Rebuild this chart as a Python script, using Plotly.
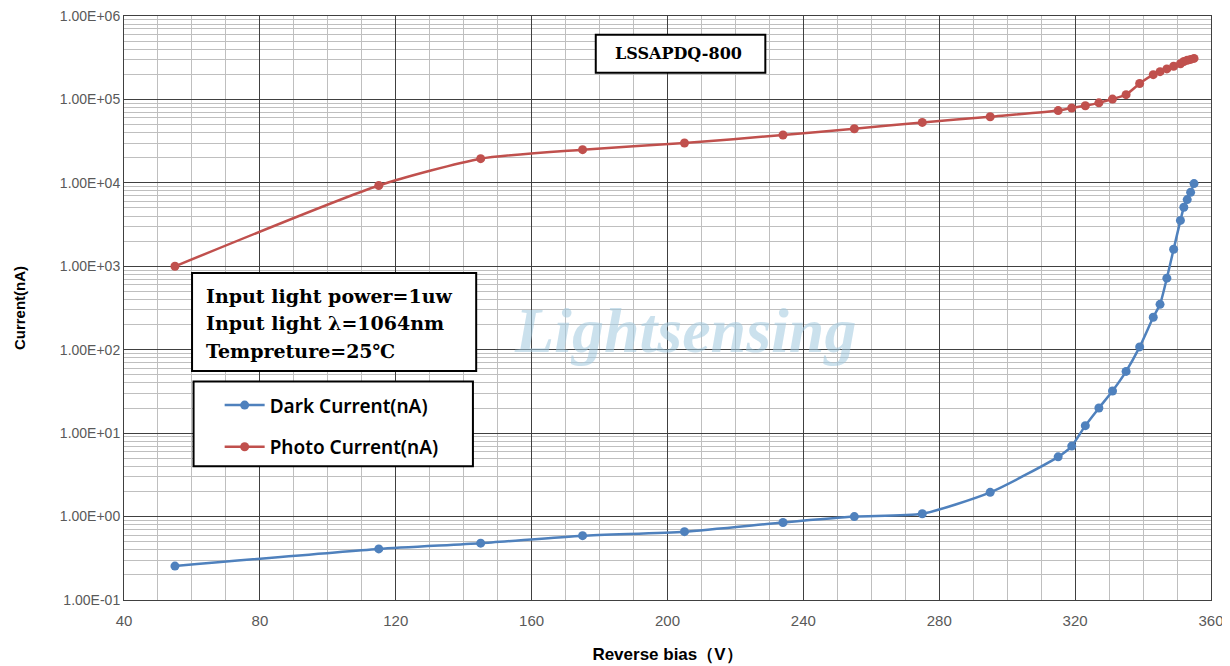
import plotly.graph_objects as go

# ---- data ----
dark_v = [55, 115, 145, 175, 205, 234, 255, 275, 295, 315, 319, 323, 327, 331, 335,
          339, 343, 345, 347, 349, 351, 352, 353, 354, 355]
dark_i = [0.255, 0.41, 0.48, 0.59, 0.66, 0.85, 1.0, 1.08, 1.95, 5.2, 7.0, 12.3, 20, 32, 55,
          108, 245, 350, 720, 1600, 3550, 5100, 6300, 7700, 9800]

photo_v = [55, 115, 145, 175, 205, 234, 255, 275, 295, 315, 319, 323, 327, 331, 335,
           339, 343, 345, 347, 349, 351, 352, 353, 354, 355]
photo_i = [1000, 9300, 19500, 25000, 30000, 37500, 44500, 53000, 62000, 73500, 79000, 84000,
           91000, 101000, 114000, 155000, 198000, 215000, 232000, 250000, 268000, 285000,
           295000, 302000, 310000]

y_tickvals = [1e-1, 1e0, 1e1, 1e2, 1e3, 1e4, 1e5, 1e6]
y_ticktext = ["1.00E-01", "1.00E+00", "1.00E+01", "1.00E+02", "1.00E+03",
              "1.00E+04", "1.00E+05", "1.00E+06"]
x_tickvals = [40, 80, 120, 160, 200, 240, 280, 320, 360]

BLUE = "#4f81bd"
RED = "#c0504d"

fig = go.Figure()
fig.add_trace(go.Scatter(
    x=dark_v, y=dark_i, name="Dark Current(nA)", mode="lines+markers",
    line=dict(color=BLUE, width=2.5, shape="spline", smoothing=0.6),
    marker=dict(color=BLUE, size=9), legendgroup="a"))
fig.add_trace(go.Scatter(
    x=photo_v, y=photo_i, name="Photo Current(nA)", mode="lines+markers",
    line=dict(color=RED, width=2.5, shape="spline", smoothing=0.6),
    marker=dict(color=RED, size=9), legendgroup="b"))

fig.update_layout(
    width=1222, height=658,
    margin=dict(l=116, r=19, t=8, b=66, autoexpand=False),
    paper_bgcolor="white", plot_bgcolor="white",
    font=dict(family="Liberation Sans, Arial, sans-serif", color="#595959"),
    showlegend=True,
    legend=dict(x=0.088, y=0.366, xanchor="left", yanchor="top",
                bgcolor="rgba(0,0,0,0)", borderwidth=0,
                font=dict(size=19, color="#000000", family="Noto Sans, sans-serif", weight=600),
                traceorder="grouped", tracegroupgap=14, itemwidth=40),
)

fig.update_xaxes(
    range=[40, 360], tickvals=x_tickvals, ticks="", automargin=False,
    ticklabeloverflow="allow", ticklabelstandoff=7,
    showgrid=True, gridcolor="#404040", gridwidth=1,
    minor=dict(dtick=10, showgrid=True, gridcolor="#bfbfbf", gridwidth=1),
    showline=True, linecolor="#404040", linewidth=1, mirror=True,
    zeroline=False,
    tickfont=dict(size=15, color="#595959"),
    title=dict(text="<b>Reverse bias（V）</b>", font=dict(size=17, color="#000000"), standoff=20),
)
fig.update_yaxes(
    type="log", range=[-1, 6], tickvals=y_tickvals, ticktext=y_ticktext, ticks="", automargin=False,
    ticklabeloverflow="allow",
    showgrid=True, gridcolor="#404040", gridwidth=1,
    minor=dict(dtick="D1", showgrid=True, gridcolor="#bfbfbf", gridwidth=1),
    showline=True, linecolor="#404040", linewidth=1, mirror=True,
    tickfont=dict(size=14, color="#595959"),
    title=dict(text="<b>Current(nA)</b>", font=dict(size=15, color="#000000"), standoff=30),
)

# boxes
fig.add_shape(type="rect", xref="paper", yref="paper", x0=0.434, x1=0.590, y0=0.903, y1=0.968,
              line=dict(color="#000000", width=2), fillcolor="white", layer="above")
fig.add_shape(type="rect", xref="paper", yref="paper", x0=0.0626, x1=0.324, y0=0.392, y1=0.560,
              line=dict(color="#000000", width=2), fillcolor="white", layer="above")
fig.add_shape(type="rect", xref="paper", yref="paper", x0=0.064, x1=0.321, y0=0.229, y1=0.374,
              line=dict(color="#000000", width=2), fillcolor="white", layer="above")

serif = "DejaVu Serif, Liberation Serif, serif"
fig.add_annotation(text="<b>LSSAPDQ-800</b>", xref="paper", yref="paper", x=0.510, y=0.9355,
                   yanchor="middle", showarrow=False, font=dict(family=serif, size=16, color="#000000"))
info_lines = ["Input light power=1uw", "Input light λ=1064nm", "Tempreture=25℃"]
for i, t in enumerate(info_lines):
    fig.add_annotation(text="<b>" + t + "</b>", xref="paper", yref="paper",
                       x=0.074, y=0.521 - i * 0.0475, xanchor="left", yanchor="middle",
                       showarrow=False, font=dict(family=serif, size=19, color="#000000"))

# watermark
fig.add_annotation(text="<b><i>Lightsensing</i></b>", xref="paper", yref="paper",
                   x=0.516, y=0.462, showarrow=False,
                   font=dict(family="Liberation Serif, serif", size=64, color="rgba(160,200,222,0.55)"))

fig.write_html("out.html")
